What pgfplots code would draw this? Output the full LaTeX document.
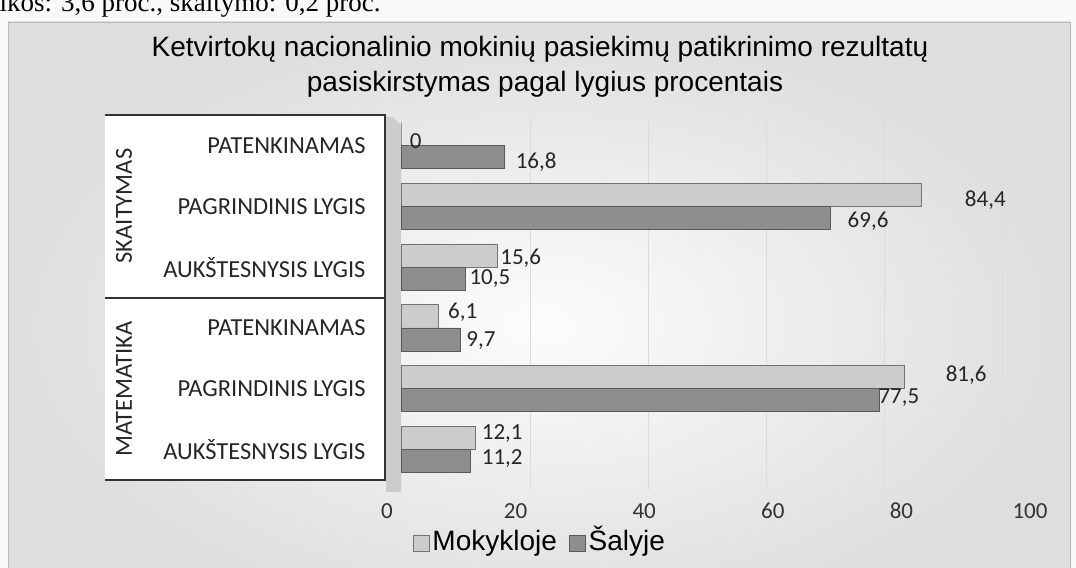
\documentclass[border=0pt]{standalone}
\usepackage{pgfplots}
\pgfplotsset{compat=1.18}
\usepackage{fontspec}
\setmainfont{Carlito}
\newfontfamily\arialf{Liberation Sans}
\newfontfamily\timesf{Liberation Serif}
\definecolor{lightbar}{RGB}{204,204,206}
\definecolor{darkbar}{RGB}{142,142,144}
\definecolor{bg}{RGB}{222,222,225}
\newcommand{\cf}{\fontsize{24.5bp}{28bp}\selectfont}
\begin{document}
\begin{tikzpicture}[x=1bp,y=1bp]
\useasboundingbox (0,0) rectangle (1076,568);
\clip (0,0) rectangle (1076,568);
\fill[white!95!gray] (0,0) rectangle (1076,568);
\shade[inner color=white!98!gray, outer color=bg] (8,-60) rectangle (1070,546);
\draw[gray!55, line width=0.8] (8,-2) -- (8,546) -- (1070,546) -- (1070,-2);
\node[anchor=base west, font=\timesf\fontsize{27bp}{30bp}\selectfont, inner sep=0] at (-8,556) {tikos: 3,6 proc., skaitymo: 0,2 proc.};
\node[anchor=base, font=\arialf\fontsize{28bp}{32bp}\selectfont, inner sep=0] at (540,511) {Ketvirtokų nacionalinio mokinių pasiekimų patikrinimo rezultatų};
\node[anchor=base, font=\arialf\fontsize{28bp}{32bp}\selectfont, inner sep=0] at (545,476) {pasiskirstymas pagal lygius procentais};
% category table
\fill[white] (105,453) rectangle (385,88);
\draw[line width=2.6, black!80] (105,453) -- (385,453) -- (385,88) -- (105,88);
\draw[line width=2.6, black!80] (105,270) -- (385,270);
\node[rotate=90, font=\cf, text=black!85] at (124,362) {SKAITYMAS};
\node[rotate=90, font=\cf, text=black!85] at (124,179) {MATEMATIKA};
% left wall
\fill[gray!40] (386,451) -- (392,451) -- (401,443) -- (401,76) -- (386,76) -- cycle;
% gridlines (back wall)
\begin{axis}[at={(412bp,78bp)}, anchor=south west, scale only axis, width=590bp, height=372bp,
  xmin=0, xmax=100, ymin=0, ymax=1, axis line style={draw=none}, major tick length=0,
  xtick={20,40,60,80,100}, xticklabels={}, ytick=\empty, xmajorgrids,
  grid style={gray!28, line width=0.7}]
\end{axis}
% tick labels
\begin{axis}[at={(387bp,57bp)}, anchor=south west, scale only axis, width=643bp, height=10bp,
  xmin=0, xmax=100, ymin=0, ymax=1, axis line style={draw=none}, major tick length=0,
  xtick={0,20,40,60,80,100}, ytick=\empty,
  xticklabel style={font=\fontsize{23bp}{26bp}\selectfont, anchor=center, text=black!80},
  /pgf/number format/assume math mode=true]
\end{axis}
% main bars
\begin{axis}[at={(401bp,88bp)}, anchor=south west, scale only axis, width=617bp, height=365bp,
  xmin=0, xmax=100, ymin=-0.5, ymax=5.5, y dir=reverse,
  ytick={0,1,2,3,4,5},
  yticklabels={PATENKINAMAS, PAGRINDINIS LYGIS, AUKŠTESNYSIS LYGIS, PATENKINAMAS, PAGRINDINIS LYGIS, AUKŠTESNYSIS LYGIS},
  yticklabel style={font=\cf, xshift=-32bp, text=black!85},
  xtick=\empty, major tick length=0, axis line style={draw=none}, clip=false,
  legend style={at={(0.0194,-0.1726)}, anchor=west, draw=none, fill=none, inner sep=0pt,
    font=\arialf\fontsize{28bp}{30bp}\selectfont, legend columns=2,
    /tikz/every even column/.append style={column sep=10bp},
    nodes={inner sep=2.5bp, text height=21bp, text depth=6bp}},
  legend cell align=left]
\addplot[xbar, bar width=0.38, bar shift=-0.19, fill=lightbar, draw=black!55, line width=0.8,
  legend image code/.code={\draw[fill=lightbar, draw=black!55, line width=0.8] (0bp,-8bp) rectangle (16bp,8bp);}]
  coordinates {(0,0) (84.4,1) (15.6,2) (6.1,3) (81.6,4) (12.1,5)};
\addlegendentry{Mokykloje}
\addplot[xbar, bar width=0.38, bar shift=0.19, fill=darkbar, draw=black!65, line width=0.8,
  legend image code/.code={\draw[fill=darkbar, draw=black!65, line width=0.8] (0bp,-8bp) rectangle (16bp,8bp);}]
  coordinates {(16.8,0) (69.6,1) (10.5,2) (9.7,3) (77.5,4) (11.2,5)};
\addlegendentry{Šalyje}
\addplot[draw=none, nodes near coords, point meta=explicit symbolic,
  nodes near coords style={anchor=center, font=\fontsize{23bp}{26bp}\selectfont, text=black!85}, forget plot]
  coordinates {(2.4,-0.07)[0] (21.9,0.27)[16,8] (94.7,0.90)[84,4] (75.7,1.24)[69,6]
    (19.4,1.85)[15,6] (14.4,2.18)[10,5] (10.0,2.75)[6,1] (12.96,3.20)[9,7]
    (91.6,3.77)[81,6] (80.7,4.15)[77,5] (16.4,4.74)[12,1] (16.4,5.14)[11,2]};
\end{axis}
\end{tikzpicture}
\end{document}
